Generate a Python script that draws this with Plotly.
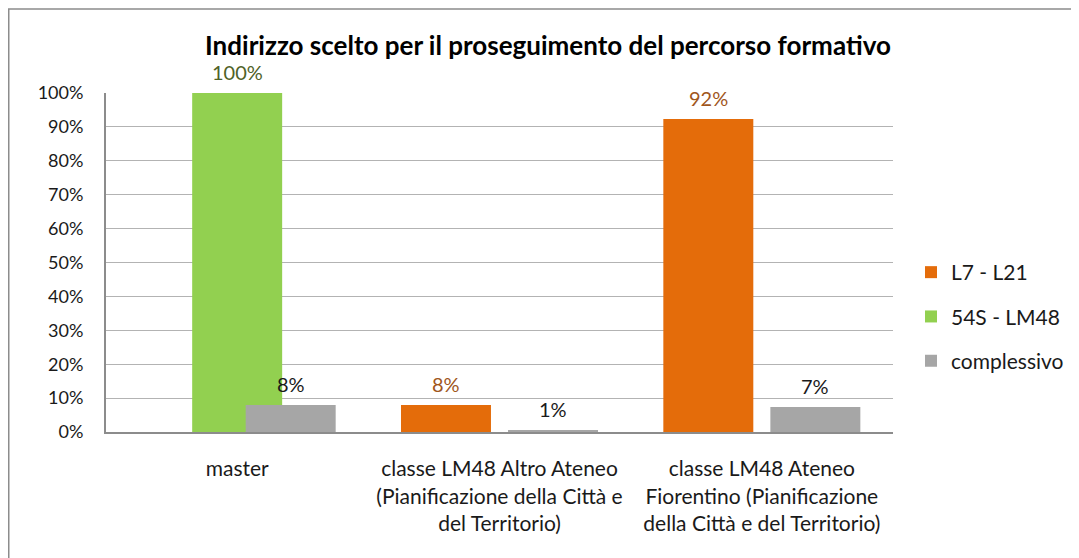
import plotly.graph_objects as go

categories = [
    "master",
    "classe LM48 Altro Ateneo<br>(Pianificazione della Città e<br>del Territorio)",
    "classe LM48 Ateneo<br>Fiorentino (Pianificazione<br>della Città e del Territorio)",
]
series_names = ["L7 - L21", "54S - LM48", "complessivo"]
l7_l21 = [0.0, 0.08, 0.923]
s54_lm48 = [1.00, 0.0, 0.0]
complessivo = [0.08, 0.006, 0.074]
y_ticks = [i / 10 for i in range(11)]

colors = ["#E46C0A", "#92D050", "#A6A6A6"]
label_colors = ["#A0561C", "#4F6228", "#1a1a1a"]

FONT = "Lato"
bar_w = 0.343
slot = 0.204

# figure coordinates (page is offset by 8px body margin)
W, H = 1079, 558
L, R, T, B = 98, 885, 85, 424
def px(x):
    return (x - L) / (R - L)
def py(y):
    return (B - y) / (B - T)

cat_px = (R - L) / len(categories)

fig = go.Figure()
annotations = []
for i, (name, vals) in enumerate(zip(series_names, [l7_l21, s54_lm48, complessivo])):
    center = (i - 1) * slot
    fig.add_trace(go.Bar(
        x=categories, y=vals, name=name,
        marker=dict(color=colors[i], line=dict(width=0)),
        width=bar_w, offset=center - bar_w / 2,
        legendgroup=name,
    ))
    for c, v in zip(categories, vals):
        if v > 0:
            annotations.append(dict(
                x=c, y=v, xref="x", yref="y",
                text=f"{round(v * 100)}%", showarrow=False,
                xanchor="center", yanchor="bottom",
                xshift=center * cat_px, yshift=7,
                font=dict(family=FONT, size=20, color=label_colors[i]),
            ))

fig.update_layout(
    width=W, height=H,
    barmode="overlay",
    margin=dict(l=L, r=W - R, t=T, b=H - B),
    paper_bgcolor="white", plot_bgcolor="white",
    font=dict(family=FONT, size=20, color="#1a1a1a"),
    title=dict(text="<b>Indirizzo scelto per il proseguimento del percorso formativo</b>",
               x=px(540), xref="paper", xanchor="center",
               y=1 - 38 / H, yanchor="middle",
               font=dict(family=FONT, size=26, color="black")),
    legend=dict(x=px(903), xanchor="left", y=py(244), yanchor="top",
                font=dict(family=FONT, size=21, color="#1a1a1a"),
                traceorder="grouped", tracegroupgap=14,
                itemwidth=30, bgcolor="rgba(0,0,0,0)"),
    xaxis=dict(showgrid=False, showline=True, linecolor="#8c8c8c", linewidth=2,
               ticks="", tickfont=dict(family=FONT, size=21), ticklabelstandoff=17,
               fixedrange=True),
    yaxis=dict(range=[0, 1], tickvals=y_ticks, tickformat=".0%",
               showgrid=True, gridcolor="#b3b3b3", gridwidth=1.3,
               showline=True, linecolor="#8c8c8c", linewidth=2,
               ticks="", tickfont=dict(family=FONT, size=18), ticklabelstandoff=17,
               zeroline=False, fixedrange=True),
    annotations=annotations,
    shapes=[dict(type="rect", xref="paper", yref="paper",
                 x0=px(0.75), x1=px(1100), y0=py(600), y1=py(1),
                 line=dict(color="#8c8c8c", width=1.5), layer="below")],
)

fig.write_html("out.html")
